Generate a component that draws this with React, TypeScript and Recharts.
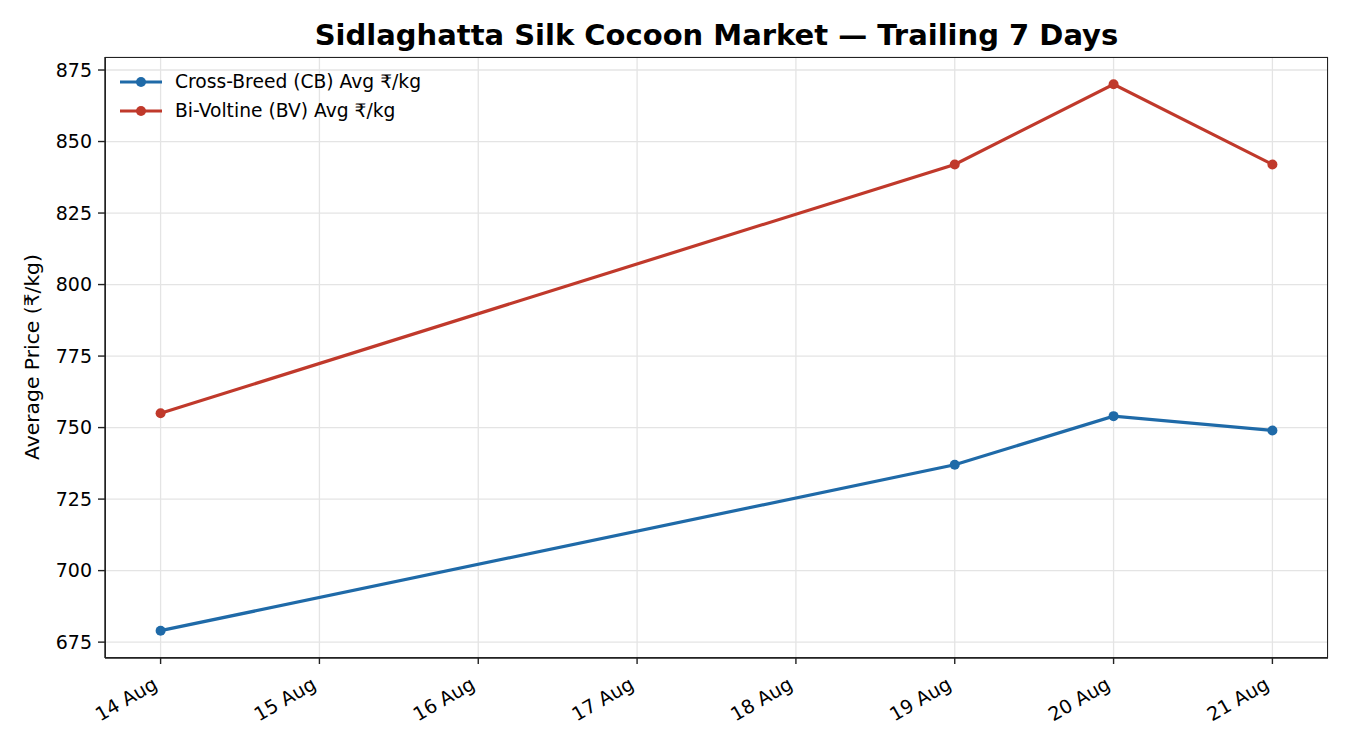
import React from 'react';
import {
  LineChart,
  Line,
  XAxis,
  YAxis,
  CartesianGrid,
} from 'recharts';

// Trading days (day of August) and the two cocoon price series
const DAYS = [14, 19, 20, 21];
const CB_PRICES = [679, 737, 754, 749];
const BV_PRICES = [755, 842, 870, 842];

const X_TICKS = [14, 15, 16, 17, 18, 19, 20, 21];
const Y_TICKS = [675, 700, 725, 750, 775, 800, 825, 850, 875];

const CB_COLOR = '#1f6aa8';
const BV_COLOR = '#c0392b';
const FONT = '"DejaVu Sans", sans-serif';
const SPINE = '#222';

const SERIES = [
  { key: 'cb', label: 'Cross-Breed (CB) Avg ₹/kg', color: CB_COLOR },
  { key: 'bv', label: 'Bi-Voltine (BV) Avg ₹/kg', color: BV_COLOR },
];

const data = DAYS.map((d, i) => ({ day: d, cb: CB_PRICES[i], bv: BV_PRICES[i] }));

const XTick = (props: any) => {
  const { x, y, payload } = props;
  return (
    <text
      x={0}
      y={0}
      transform={`translate(${x - 2}, ${y + 22}) rotate(-30)`}
      textAnchor="end"
      fontSize={19}
      fontFamily={FONT}
      fill="#000"
    >
      {`${payload.value} Aug`}
    </text>
  );
};

const LegendBox = () => (
  <div
    style={{
      position: 'absolute',
      left: 120,
      top: 67,
      fontFamily: FONT,
      fontSize: 18.7,
      color: '#000',
      lineHeight: '29px',
    }}
  >
    {SERIES.map(item => (
      <div key={item.key} style={{ display: 'flex', alignItems: 'center' }}>
        <svg width={42} height={12} style={{ marginRight: 13 }}>
          <line x1={0} y1={6} x2={42} y2={6} stroke={item.color} strokeWidth={3.2} />
          <circle cx={21} cy={6} r={5} fill={item.color} />
        </svg>
        <span>{item.label}</span>
      </div>
    ))}
  </div>
);

export default function App() {
  return (
    <div style={{ position: 'absolute', left: 0, top: 0, width: 1350, height: 750, background: '#fff' }}>
      <div
        style={{
          position: 'absolute',
          left: 105,
          width: 1223,
          top: 17,
          textAlign: 'center',
          fontFamily: FONT,
          fontWeight: 'bold',
          fontSize: 29,
          lineHeight: '36px',
          color: '#000',
        }}
      >
        Sidlaghatta Silk Cocoon Market — Trailing 7 Days
      </div>
      <div
        style={{
          position: 'absolute',
          left: 32,
          top: 357,
          transform: 'translate(-50%, -50%) rotate(-90deg)',
          whiteSpace: 'nowrap',
          fontFamily: FONT,
          fontSize: 20.3,
          color: '#000',
        }}
      >
        Average Price (₹/kg)
      </div>
      <LineChart
        width={1350}
        height={750}
        data={data}
        margin={{ top: 57, right: 22, bottom: 0, left: 45 }}
        style={{ position: 'absolute', left: 0, top: 0 }}
      >
        <CartesianGrid stroke="#e4e4e4" strokeWidth={1.3} />
        <XAxis
          dataKey="day"
          type="number"
          domain={[13.65, 21.35]}
          ticks={X_TICKS}
          interval={0}
          allowDataOverflow
          height={92}
          tick={<XTick />}
          tickSize={6}
          axisLine={{ stroke: SPINE, strokeWidth: 1.4 }}
          tickLine={{ stroke: SPINE, strokeWidth: 1.4 }}
        />
        <YAxis
          type="number"
          domain={[669.45, 879.55]}
          ticks={Y_TICKS}
          interval={0}
          allowDataOverflow
          width={60}
          tickSize={7}
          tickMargin={6}
          tick={{ fill: '#000', fontSize: 19, fontFamily: FONT }}
          axisLine={{ stroke: SPINE, strokeWidth: 1.4 }}
          tickLine={{ stroke: SPINE, strokeWidth: 1.4 }}
        />
        {SERIES.map(s => (
          <Line
            key={s.key}
            type="linear"
            dataKey={s.key}
            name={s.label}
            stroke={s.color}
            strokeWidth={3.2}
            dot={{ r: 5, fill: s.color, stroke: s.color, strokeWidth: 0 }}
            isAnimationActive={false}
          />
        ))}
      </LineChart>
      {/* plot frame (top/right spines) */}
      <div
        style={{
          position: 'absolute',
          left: 105,
          top: 57,
          width: 1223,
          height: 601,
          boxSizing: 'border-box',
          border: `1.4px solid ${SPINE}`,
          pointerEvents: 'none',
        }}
      />
      <LegendBox />
    </div>
  );
}
